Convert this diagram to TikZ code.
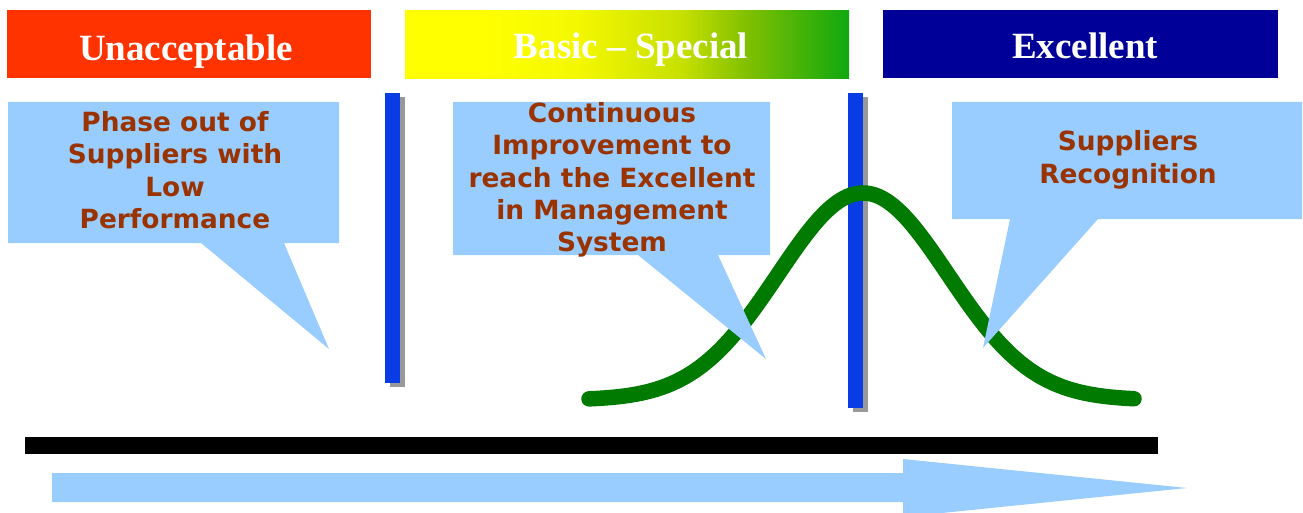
\documentclass[tikz,border=0pt]{standalone}
\usepackage{fontspec}
\setmainfont{Liberation Serif}
\newfontfamily\calloutfont{DejaVu Sans}
\definecolor{unaccred}{HTML}{FF3300}
\definecolor{excelblue}{HTML}{000099}
\definecolor{barblue}{HTML}{0A3CE6}
\definecolor{bubble}{HTML}{99CCFF}
\definecolor{rust}{HTML}{993300}
\definecolor{bellgreen}{HTML}{007A00}
\definecolor{shadowgray}{HTML}{999999}
\definecolor{gyellow}{HTML}{FFFF00}
\definecolor{gya}{HTML}{F4F800}
\definecolor{gyb}{HTML}{C8E000}
\definecolor{gyc}{HTML}{80C000}
\definecolor{ggreen}{HTML}{10A810}
% yellow-to-green band behind "Basic – Special"
\pgfdeclarehorizontalshading{basicspecial}{100bp}{%
  color(0bp)=(gyellow); color(25bp)=(gyellow); color(33.5bp)=(gyellow);
  color(44.5bp)=(gya); color(56bp)=(gyb); color(63.5bp)=(gyc);
  color(75bp)=(ggreen); color(100bp)=(ggreen)}
\tikzset{
  headbox/.style={draw=none, inner sep=0pt, minimum height=68pt},
  headtext/.style={anchor=base, text=white, inner sep=0pt,
    font=\fontsize{37}{40}\selectfont\bfseries},
  bubbletext/.style={align=center, text=rust, inner sep=0pt,
    font=\calloutfont\fontsize{26.4}{32.4}\selectfont\bfseries},
  bubblefill/.style={fill=bubble},
  divider/.style={fill=barblue},
  dividershadow/.style={fill=shadowgray},
}
\begin{document}
\begin{tikzpicture}[x=1pt,y=-1pt]
\useasboundingbox (0,0) rectangle (1303,513);
\clip (0,0) rectangle (1303,513);

% header bands
\node[headbox, fill=unaccred, minimum width=364pt] (hU) at (189,44.5) {};
\node[headbox, shading=basicspecial, minimum width=444pt] (hB) at (627,44.5) {};
\node[headbox, fill=excelblue, minimum width=395pt] (hE) at (1080.5,44) {};
\node[headtext] (tU) at (186,61) {Unacceptable};
\node[headtext] (tB) at (631,58.5) {Basic – Special};
\node[headtext] (tE) at (1085,58.5) {Excellent};

% vertical dividers with drop shadows
\fill[dividershadow] (390,97) rectangle (405,387);
\fill[divider] (385,93) rectangle (400,383);
\fill[dividershadow] (853,97) rectangle (868,412);
\fill[divider] (848,93) rectangle (863,408);

% bell curve, drawn over the dividers
\draw[bellgreen, line width=15.5pt, line cap=round]
  plot[domain=589:1134, samples=140, smooth]
  (\x, {400 - 207*exp(-0.5*((\x-863)/85)^2)});

% speech bubbles
\fill[bubblefill] (8,102) -- (339,102) -- (339,243) -- (284,243) -- (329,349)
  -- (201,243) -- (8,243) -- cycle;
\fill[bubblefill] (453,102) -- (770,102) -- (770,255) -- (718,255) -- (766,359)
  -- (638,255) -- (453,255) -- cycle;
\fill[bubblefill] (952,102) -- (1302,102) -- (1302,219) -- (1098,219) -- (983,348)
  -- (1010,219) -- (952,219) -- cycle;

\node[bubbletext] (bL) at (175,170) {Phase out of\\Suppliers with\\Low\\Performance};
\node[bubbletext] (bM) at (612,180) {Continuous\\Improvement to\\reach the Excellent\\in Management\\System};
\node[bubbletext] (bR) at (1128,160) {Suppliers\\Recognition};

% baseline bar and direction arrow
\fill[black] (25,437) rectangle (1158,454);
\fill[bubblefill] (52,473) -- (903,473) -- (903,459) -- (1187,488) -- (903,517)
  -- (903,502) -- (52,502) -- cycle;
\end{tikzpicture}
\end{document}
